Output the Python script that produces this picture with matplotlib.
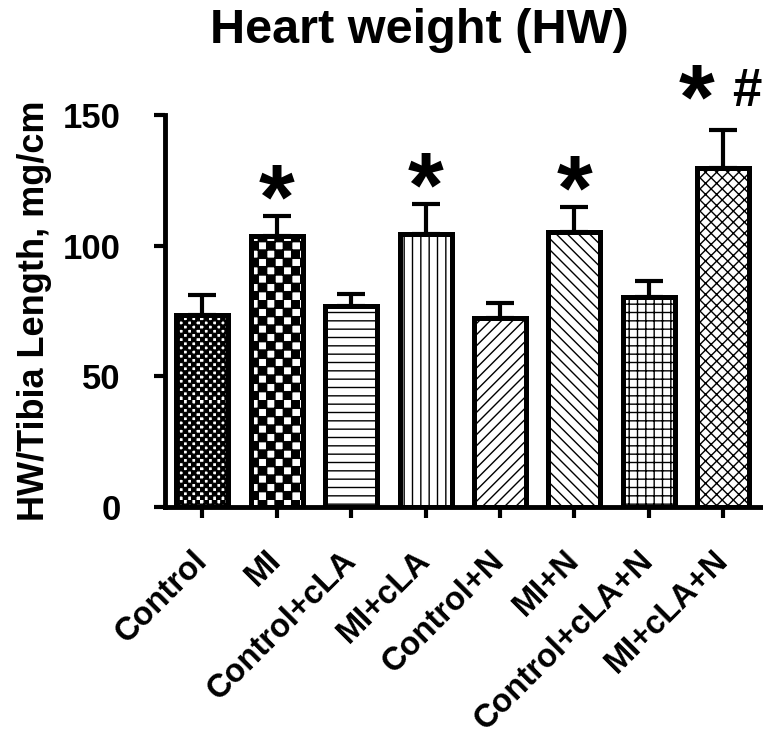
import warnings
import numpy as np
import matplotlib
matplotlib.use("Agg")
import matplotlib.pyplot as plt
import matplotlib.hatch as mhatch
import matplotlib.transforms as mtrans
from matplotlib.path import Path

warnings.filterwarnings("ignore")

# data
groups = ["Control", "MI", "Control+cLA", "MI+cLA", "Control+N", "MI+N",
          "Control+cLA+N", "MI+cLA+N"]
hw_mean = [73.5, 103.7, 76.9, 104.5, 72.3, 105.2, 80.4, 129.7]
hw_sem = [7.6, 7.7, 4.5, 11.5, 5.8, 9.6, 6.1, 14.6]
hatches = ["cc", "c", "--", "||", "///", "\\\\\\", "++", "xxx"]
marks = ["", "*", "", "*", "", "*", "", "*"]
hash_marks = ["", "", "", "", "", "", "", "#"]


# checkerboard fill, not one of matplotlib's built-in hatches
class CheckerHatch(mhatch.HatchPatternBase):
    def __init__(self, hatch, density):
        self.n = 2 * hatch.count("c") * density
        self.num_vertices = (self.n * self.n // 2) * 5

    def set_vertices_and_codes(self, vertices, codes):
        step = 1.0 / self.n
        k = 0
        for i in range(self.n):
            for j in range(self.n):
                if (i + j) % 2:
                    continue
                x0, y0 = i * step, j * step
                vertices[k:k + 5] = [[x0, y0], [x0 + step, y0],
                                     [x0 + step, y0 + step], [x0, y0 + step],
                                     [x0, y0]]
                codes[k:k + 5] = [Path.MOVETO, Path.LINETO, Path.LINETO,
                                  Path.LINETO, Path.CLOSEPOLY]
                k += 5


mhatch._hatch_types.append(CheckerHatch)

plt.rcParams["font.family"] = ["Liberation Sans", "DejaVu Sans"]
plt.rcParams["font.weight"] = "bold"
plt.rcParams["hatch.linewidth"] = 1.0

fig = plt.figure(figsize=(7.63, 7.37), dpi=100)
ax = fig.add_axes([0.2163, 0.3121, 0.7824, 0.532])

x = np.arange(len(groups))
ax.errorbar(x, hw_mean, yerr=[np.zeros(len(x)), hw_sem], fmt="none",
            ecolor="black", elinewidth=3, capsize=10, capthick=3, zorder=1)
bars = ax.bar(x, hw_mean, width=0.7, color="white", edgecolor="black",
              linewidth=3.6, zorder=2)
for b, h in zip(bars, hatches):
    b.set_hatch(h)

for xi, m, s, star, hs in zip(x, hw_mean, hw_sem, marks, hash_marks):
    top = m + s
    if star and not hs:
        ax.annotate(star, (xi, top), xytext=(0, -23), textcoords="offset points",
                    ha="center", va="bottom", fontsize=66, fontweight="bold")
    elif star:
        ax.annotate(star, (xi, top), xytext=(-19, -13), textcoords="offset points",
                    ha="center", va="bottom", fontsize=66, fontweight="bold",
                    annotation_clip=False)
        ax.annotate(hs, (xi, top), xytext=(17, 9), textcoords="offset points",
                    ha="center", va="bottom", fontsize=38, fontweight="bold",
                    annotation_clip=False)

ax.set_xlim(-0.5, 7.52)
ax.set_ylim(0, 150)
ax.set_yticks([0, 50, 100, 150])
ax.set_xticks(x)
ax.set_xticklabels(groups, rotation=45, ha="right", rotation_mode="anchor",
                   va="center", fontsize=23.5, fontweight="bold")
shift = mtrans.ScaledTranslation(-14 / 100, 0, fig.dpi_scale_trans)
for lab in ax.get_xticklabels():
    lab.set_transform(lab.get_transform() + shift)
ax.tick_params(axis="y", length=8, width=3, pad=24, labelsize=25)
ax.tick_params(axis="x", length=8, width=3, pad=27)
for lab in ax.get_yticklabels():
    lab.set_fontweight("bold")

for side in ["top", "right"]:
    ax.spines[side].set_visible(False)
for side in ["left", "bottom"]:
    ax.spines[side].set_linewidth(3.5)

ax.set_ylabel("HW/Tibia Length, mg/cm", fontsize=26, fontweight="bold")
ax.yaxis.set_label_coords(-0.19, 0.5)
fig.text(0.55, 0.959, "Heart weight (HW)", ha="center", va="center",
         fontsize=35, fontweight="bold")

fig.savefig("out.png", dpi=100)
